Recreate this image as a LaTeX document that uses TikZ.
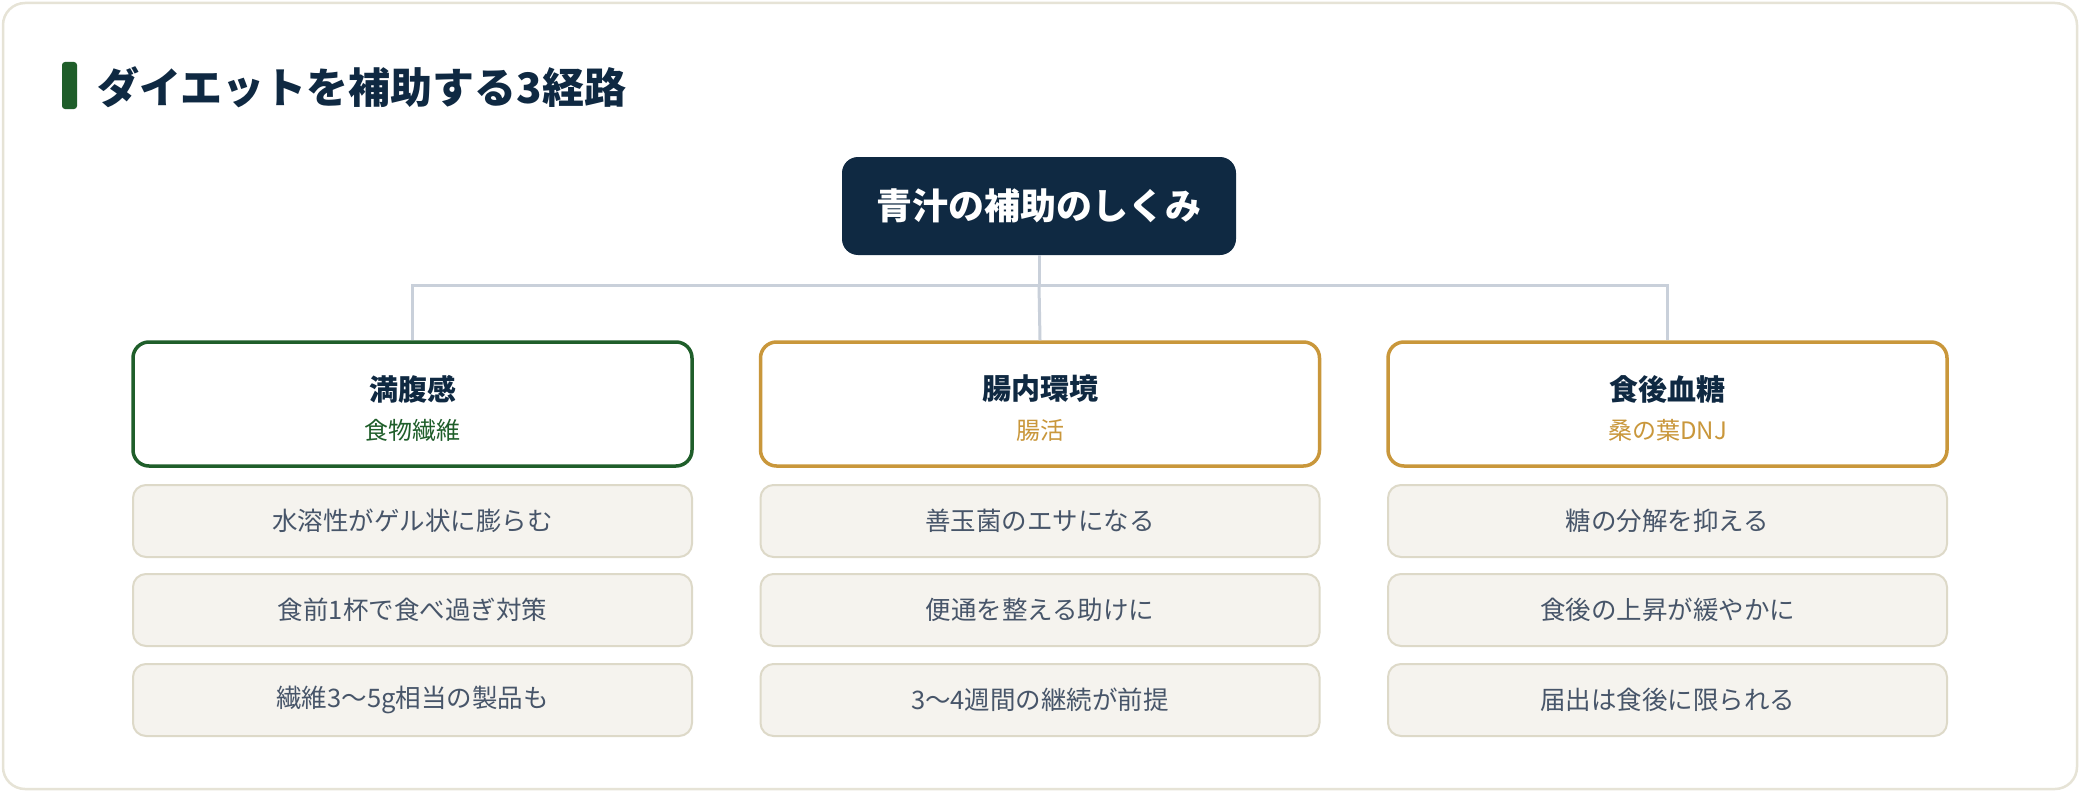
\documentclass[tikz,border=0pt]{standalone}
\usepackage{fontspec}
\setmainfont{Noto Sans CJK JP}
\definecolor{navy}{HTML}{0F2942}
\definecolor{leaf}{HTML}{1F5E2A}
\definecolor{gold}{HTML}{C9973B}
\definecolor{connc}{HTML}{C9D0DA}
\definecolor{itemfill}{HTML}{F5F3EE}
\definecolor{itemdraw}{HTML}{DDD9C8}
\definecolor{itemtext}{HTML}{475569}
\definecolor{cardline}{HTML}{E6E3D6}
\tikzset{
  catbox/.style={draw=#1, line width=3.5pt, rounded corners=16pt, fill=white, minimum width=559pt, minimum height=124pt, inner sep=0pt},
  itembox/.style={draw=itemdraw, line width=2pt, rounded corners=13pt, fill=itemfill, minimum width=559pt, minimum height=72pt, inner sep=0pt, text=itemtext, font=\fontsize{25.5}{30}\selectfont},
  cattitle/.style={text=navy, font=\bfseries\fontsize{29}{34}\selectfont, inner sep=0pt},
  catsub/.style={text=#1, font=\fontsize{24}{28}\selectfont, inner sep=0pt},
  conn/.style={draw=connc, line width=3pt},
}
\begin{document}
\begin{tikzpicture}[x=1pt,y=-1pt]
\useasboundingbox (0,0) rectangle (2080,792);
\draw[cardline, line width=2.5pt, fill=white, rounded corners=22pt] (3,3) rectangle (2077,789);
% title
\fill[leaf, rounded corners=3pt] (62,62) rectangle (77,109);
\node[anchor=west, inner sep=0pt, text=navy, font=\bfseries\fontsize{42}{50}\selectfont] (ttl) at (97,87) {ダイエットを補助する3経路};
% header
\node[fill=navy, rounded corners=16pt, minimum width=394pt, minimum height=98pt, inner sep=0pt, text=white, font=\bfseries\fontsize{36}{42}\selectfont] (hdr) at (1039,206) {青汁の補助のしくみ};
% category boxes
\node[catbox=leaf] (c1) at (412.5,404) {};
\node[catbox=gold] (c2) at (1040,404) {};
\node[catbox=gold] (c3) at (1667.5,404) {};
\node[cattitle] (t1) at (412.5,389) {満腹感};
\node[cattitle] (t2) at (1040,389) {腸内環境};
\node[cattitle] (t3) at (1667.5,389) {食後血糖};
\node[catsub=leaf] (s1) at (412.5,430) {食物繊維};
\node[catsub=gold] (s2) at (1040,430) {腸活};
\node[catsub=gold] (s3) at (1667.5,430) {桑の葉DNJ};
% connectors
\coordinate (j) at (1039,285);
\draw[conn] (hdr.south) -- (j);
\draw[conn] (j) -| (c1.north);
\draw[conn] (j) -| (c3.north);
\draw[conn] (j) -- (c2.north);
% items
\node[itembox] (a1) at (412.5,521) {水溶性がゲル状に膨らむ};
\node[itembox] (a2) at (412.5,610) {食前1杯で食べ過ぎ対策};
\node[itembox] (a3) at (412.5,700) {繊維3〜5g相当の製品も};
\node[itembox] (b1) at (1040,521) {善玉菌のエサになる};
\node[itembox] (b2) at (1040,610) {便通を整える助けに};
\node[itembox] (b3) at (1040,700) {3〜4週間の継続が前提};
\node[itembox] (d1) at (1667.5,521) {糖の分解を抑える};
\node[itembox] (d2) at (1667.5,610) {食後の上昇が緩やかに};
\node[itembox] (d3) at (1667.5,700) {届出は食後に限られる};
\end{tikzpicture}
\end{document}
